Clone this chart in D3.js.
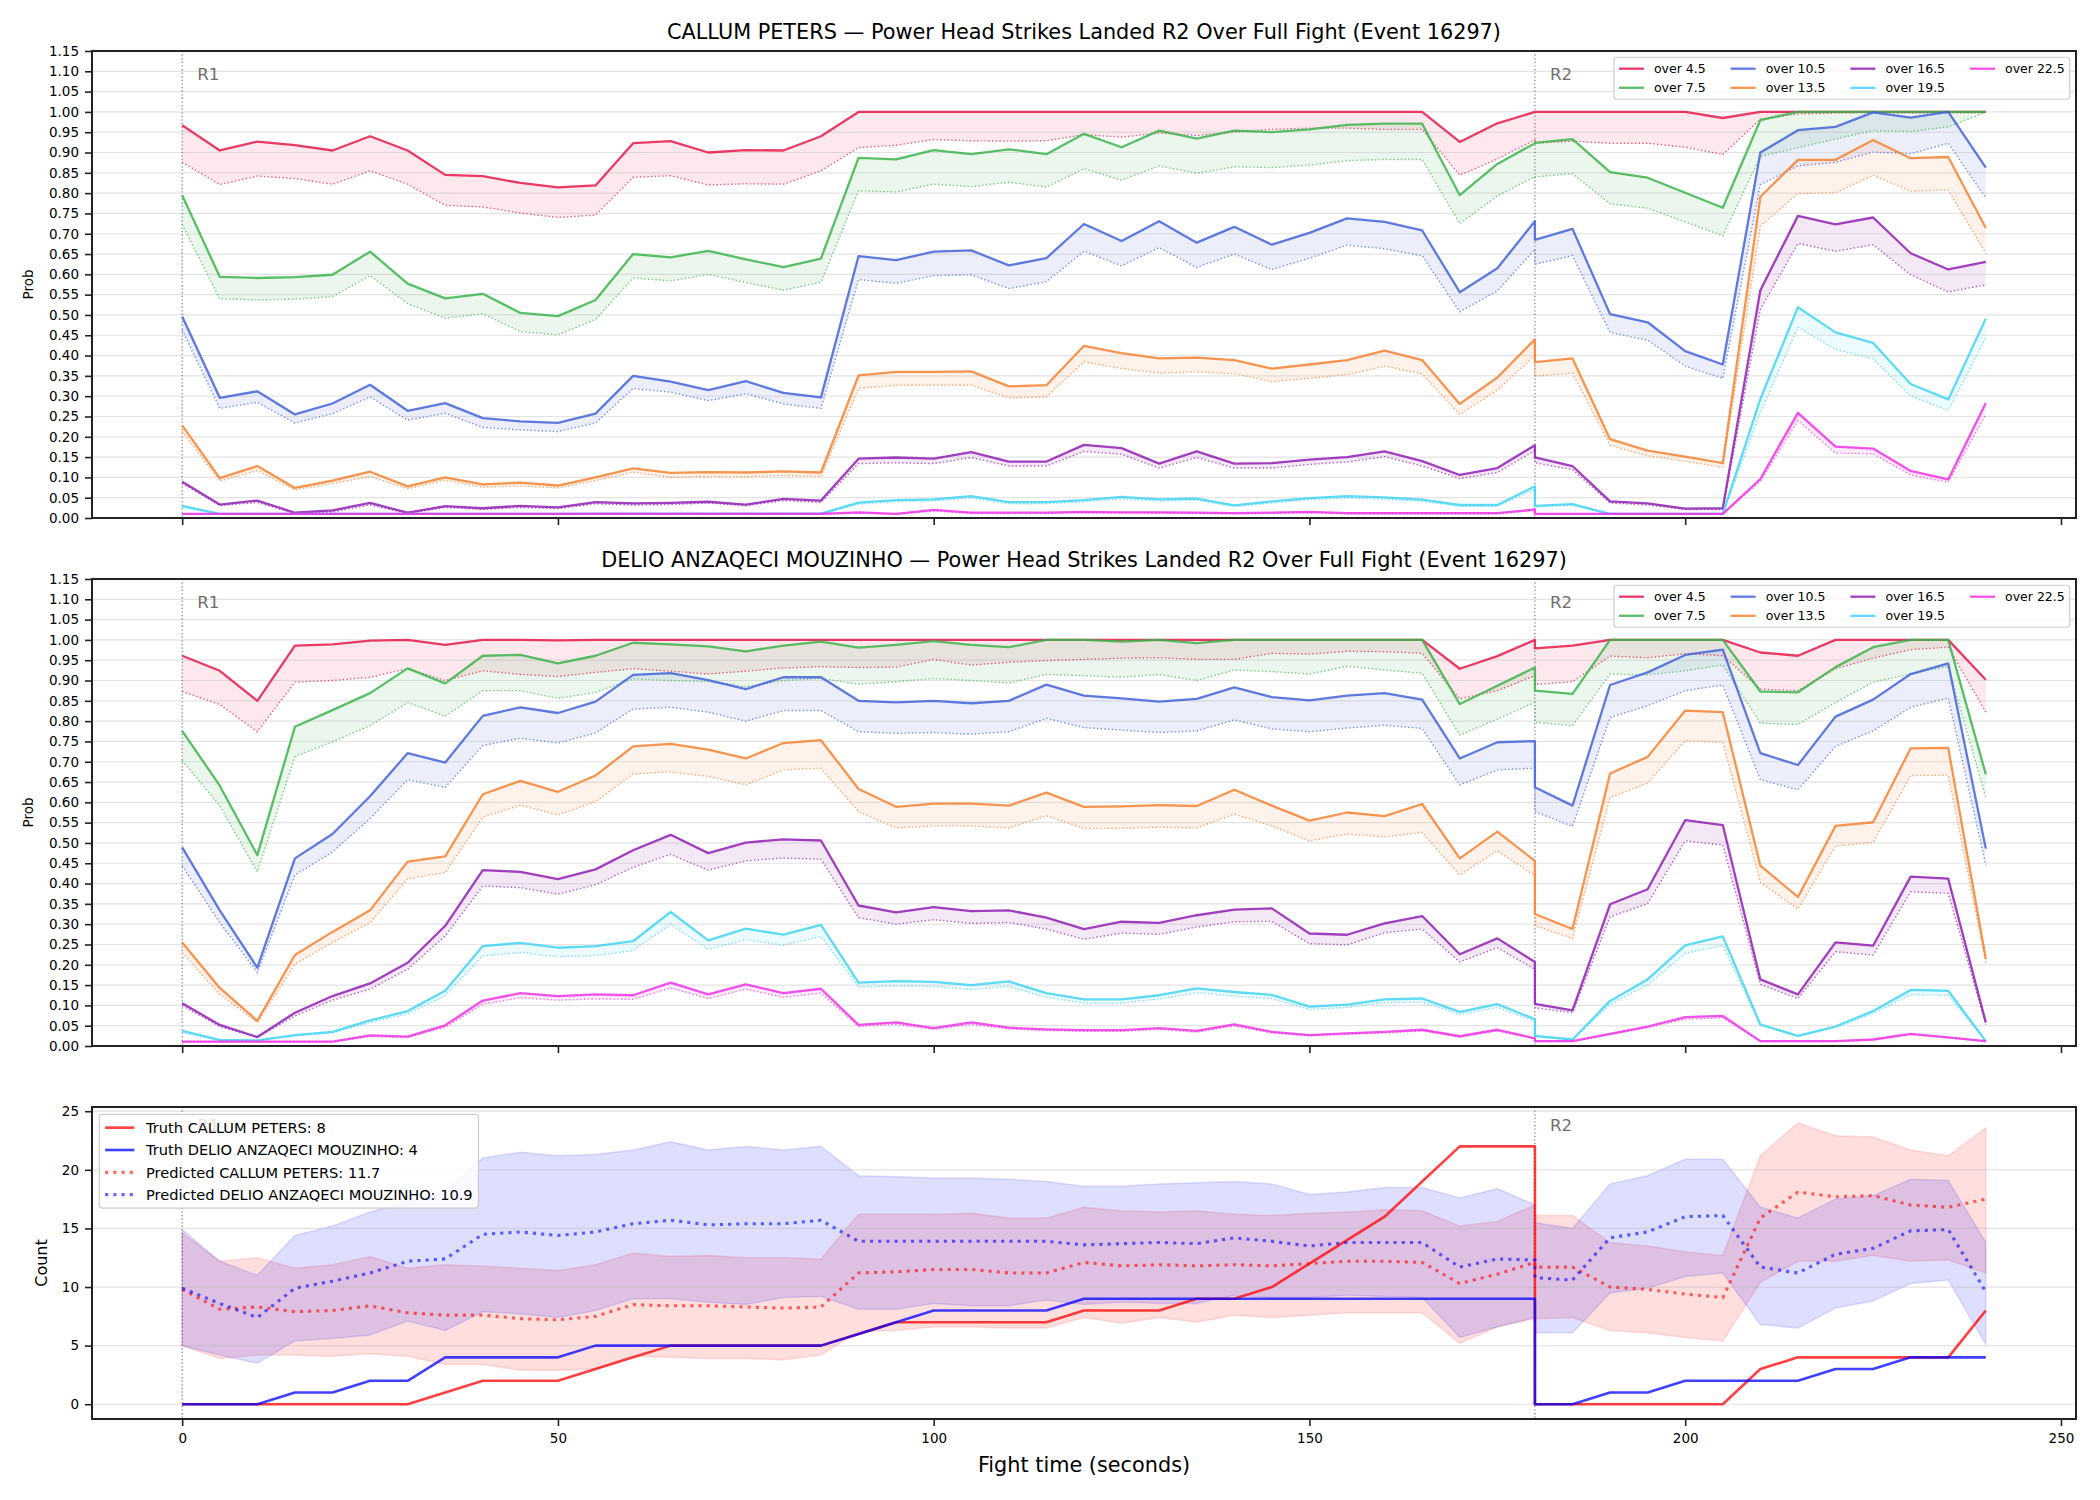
<html>
<head>
<meta charset="utf-8">
<title>Power Head Strikes Landed R2 Over Full Fight</title>
<script src="https://d3js.org/d3.v7.min.js"></script>
<style>
  body { margin: 0; background: #fff; }
</style>
</head>
<body>
<script>
// ---- data ----
const times = [0,5,10,15,20,25,30,35,40,45,50,55,60,65,70,75,80,85,90,95,100,105,110,115,120,125,130,135,140,145,150,155,160,165,170,175,180,
               180,185,190,195,200,205,210,215,220,225,230,235,240];
const roundStarts = [0, 180];
const roundNames = ["R1", "R2"];
const timeTicks = [0, 50, 100, 150, 200, 250];
const probTicks = [0,0.05,0.1,0.15,0.2,0.25,0.3,0.35,0.4,0.45,0.5,0.55,0.6,0.65,0.7,0.75,0.8,0.85,0.9,0.95,1,1.05,1.1,1.15];
const countTicks = [0, 5, 10, 15, 20, 25];

const thresholdLabels = ["over 4.5","over 7.5","over 10.5","over 13.5","over 16.5","over 19.5","over 22.5"];
const thresholdColors = ["#e6194b","#3cb44b","#4363d8","#f58231","#911eb4","#42d4f4","#f032e6"];

// CALLUM PETERS: solid lines
const petersSolid = [
 [.967,.905,.927,.918,.905,.940,.905,.845,.842,.825,.814,.819,.923,.928,.900,.906,.905,.940,1,1,1,1,1,1,1,1,1,1,1,1,1,1,1,1,.926,.972,1,
  1,1,1,1,1,.985,1,1,1,1,1,1,1],
 [.795,.594,.591,.593,.599,.656,.577,.541,.552,.505,.497,.537,.650,.642,.658,.637,.618,.639,.887,.883,.906,.896,.908,.896,.946,.913,.954,.934,.954,.950,.957,.968,.971,.971,.795,.872,.923,
  .924,.933,.852,.838,.801,.764,.980,1,1,1,1,1,1],
 [.496,.296,.312,.255,.282,.328,.264,.283,.246,.238,.234,.257,.350,.336,.315,.337,.308,.297,.645,.635,.656,.659,.622,.640,.724,.682,.731,.678,.717,.673,.702,.738,.729,.708,.556,.615,.731,
  .685,.712,.502,.482,.411,.378,.900,.955,.963,.999,.986,1,.863],
 [.228,.098,.128,.074,.092,.114,.078,.100,.083,.087,.080,.100,.122,.111,.113,.112,.115,.112,.351,.360,.360,.361,.324,.327,.424,.406,.393,.395,.389,.368,.378,.389,.412,.389,.281,.346,.440,
  .384,.393,.194,.166,.151,.135,.791,.882,.882,.931,.886,.889,.714],
 [.089,.033,.043,.013,.019,.037,.013,.029,.024,.030,.026,.039,.036,.037,.040,.033,.047,.043,.146,.149,.146,.162,.139,.139,.180,.172,.134,.164,.134,.135,.144,.150,.164,.140,.106,.123,.179,
  .149,.128,.041,.036,.023,.024,.561,.744,.723,.740,.652,.612,.631],
 [.030,.010,.010,.010,.010,.010,.010,.010,.010,.010,.010,.011,.011,.011,.011,.011,.011,.011,.038,.044,.046,.054,.039,.039,.044,.052,.046,.048,.031,.041,.049,.054,.051,.045,.032,.032,.078,
  .030,.034,.010,.010,.010,.010,.293,.519,.457,.431,.330,.292,.491],
 [.010,.010,.010,.010,.010,.010,.010,.010,.010,.010,.010,.010,.010,.010,.010,.010,.010,.010,.014,.010,.020,.013,.013,.013,.015,.014,.014,.013,.012,.013,.015,.012,.012,.012,.012,.012,.021,
  .010,.010,.010,.010,.010,.010,.096,.259,.176,.171,.116,.095,.283]
];
// CALLUM PETERS: dotted lines
const petersDotted = [
 [.876,.821,.842,.836,.822,.855,.822,.770,.766,.751,.740,.746,.839,.843,.820,.823,.822,.855,.912,.918,.932,.929,.928,.929,.944,.938,.948,.942,.950,.957,.960,.960,.957,.957,.844,.884,.931,
  .923,.928,.923,.923,.913,.895,.982,.995,.997,.998,.997,.998,.998],
 [.723,.540,.537,.539,.545,.597,.528,.492,.503,.459,.451,.489,.591,.584,.600,.580,.561,.581,.806,.803,.822,.816,.827,.815,.860,.832,.867,.849,.865,.863,.869,.880,.883,.883,.725,.793,.841,
  .840,.848,.774,.763,.729,.695,.890,.912,.933,.954,.952,.963,1],
 [.463,.270,.285,.234,.257,.298,.241,.258,.223,.217,.213,.234,.319,.310,.289,.306,.281,.270,.587,.578,.597,.599,.565,.582,.657,.621,.666,.617,.650,.612,.640,.672,.663,.646,.508,.559,.662,
  .625,.646,.457,.438,.374,.344,.821,.867,.876,.901,.897,.923,.788],
 [.213,.091,.117,.069,.085,.102,.072,.093,.076,.079,.074,.092,.113,.100,.102,.102,.105,.102,.319,.327,.327,.327,.296,.298,.385,.368,.357,.360,.355,.336,.344,.353,.374,.355,.255,.315,.400,
  .349,.357,.179,.153,.140,.125,.719,.799,.801,.844,.805,.808,.651],
 [.085,.031,.038,.011,.015,.032,.011,.026,.021,.026,.023,.035,.032,.033,.037,.030,.043,.038,.134,.136,.134,.149,.128,.128,.164,.157,.123,.149,.123,.123,.132,.138,.151,.128,.097,.112,.166,
  .136,.119,.037,.032,.021,.021,.514,.676,.657,.673,.599,.557,.574],
 [.026,.009,.009,.009,.009,.009,.009,.009,.009,.009,.009,.009,.009,.009,.009,.009,.009,.009,.034,.040,.042,.049,.035,.035,.040,.047,.042,.044,.028,.037,.045,.049,.046,.041,.029,.029,.070,
  .027,.031,.009,.009,.009,.009,.260,.470,.415,.392,.300,.265,.445],
 [.009,.009,.009,.009,.009,.009,.009,.009,.009,.009,.009,.009,.009,.009,.009,.009,.009,.009,.012,.009,.017,.011,.011,.011,.013,.012,.012,.011,.010,.011,.013,.010,.010,.010,.010,.010,.018,
  .009,.009,.009,.009,.009,.009,.090,.240,.160,.158,.106,.088,.255]
];
// DELIO ANZAQECI MOUZINHO: solid lines
const delioSolid = [
 [.961,.924,.850,.986,.989,.998,1,.988,1,1,.999,1,1,1,1,1,1,1,1,1,1,1,1,1,1,1,1,1,1,1,1,1,1,1,.929,.960,1,
  .979,.986,1,1,1,1,.969,.961,1,1,1,1,.902],
 [.776,.641,.470,.786,.827,.869,.930,.893,.961,.963,.942,.961,.993,.989,.984,.972,.986,.996,.981,.988,.997,.988,.982,1,1,.996,1,.992,1,1,1,1,1,1,.842,.887,.932,
  .875,.867,1,1,1,1,.873,.871,.933,.982,1,1,.669],
 [.489,.334,.193,.462,.522,.615,.721,.698,.813,.834,.820,.848,.914,.918,.901,.879,.908,.908,.850,.846,.850,.844,.850,.890,.863,.856,.848,.855,.883,.859,.851,.863,.869,.853,.708,.748,.751,
  .637,.592,.889,.920,.963,.976,.721,.692,.811,.853,.916,.942,.486],
 [.255,.143,.062,.224,.281,.334,.454,.467,.620,.653,.626,.666,.738,.744,.730,.708,.746,.753,.633,.589,.597,.597,.592,.624,.589,.590,.593,.591,.631,.592,.555,.575,.566,.596,.462,.528,.456,
  .325,.288,.671,.712,.826,.822,.444,.367,.542,.551,.733,.734,.215],
 [.105,.052,.022,.082,.123,.154,.205,.296,.433,.429,.411,.435,.482,.520,.475,.501,.509,.506,.346,.329,.342,.332,.334,.316,.288,.306,.303,.322,.336,.339,.277,.274,.302,.320,.226,.265,.207,
  .104,.088,.349,.386,.556,.544,.164,.127,.255,.247,.417,.412,.058],
 [.037,.015,.014,.027,.035,.063,.086,.136,.246,.254,.242,.246,.258,.330,.260,.289,.274,.298,.156,.160,.158,.150,.159,.130,.115,.115,.125,.142,.133,.126,.097,.102,.115,.117,.084,.103,.066,
  .025,.016,.111,.164,.248,.270,.053,.025,.048,.086,.138,.136,.012],
 [.011,.011,.011,.011,.011,.026,.023,.051,.112,.130,.123,.127,.125,.156,.127,.152,.130,.141,.052,.058,.044,.058,.045,.041,.039,.039,.044,.037,.053,.035,.027,.031,.035,.040,.024,.040,.019,
  .012,.012,.030,.048,.071,.074,.012,.012,.012,.016,.030,.021,.012]
];
// DELIO ANZAQECI MOUZINHO: dotted lines
const delioDotted = [
 [.873,.841,.774,.896,.900,.908,.929,.900,.924,.915,.910,.920,.929,.923,.916,.923,.931,.934,.932,.933,.952,.938,.945,.949,.952,.955,.956,.952,.952,.967,.965,.972,.971,.967,.855,.875,.912,
  .890,.897,.960,.956,.966,.961,.879,.875,.929,.955,.976,.982,.822],
 [.703,.592,.429,.713,.749,.789,.846,.812,.875,.875,.856,.871,.904,.900,.897,.885,.900,.905,.891,.897,.905,.900,.894,.915,.912,.908,.915,.900,.926,.922,.916,.935,.926,.918,.766,.805,.846,
  .797,.789,.916,.914,.924,.938,.795,.792,.846,.896,.916,.935,.612],
 [.444,.304,.181,.421,.478,.560,.656,.637,.740,.758,.746,.771,.830,.834,.822,.800,.826,.826,.774,.770,.772,.768,.774,.807,.784,.778,.772,.776,.803,.781,.774,.783,.790,.782,.643,.680,.684,
  .577,.541,.809,.838,.875,.889,.656,.631,.738,.776,.834,.857,.445],
 [.230,.127,.058,.201,.255,.304,.411,.427,.563,.593,.569,.602,.670,.675,.664,.643,.680,.684,.577,.537,.542,.542,.537,.567,.536,.536,.539,.537,.571,.542,.505,.522,.515,.526,.421,.481,.419,
  .296,.265,.612,.647,.752,.748,.403,.337,.493,.501,.666,.667,.205],
 [.099,.048,.021,.074,.113,.140,.189,.271,.394,.390,.374,.397,.440,.472,.433,.456,.463,.460,.316,.300,.311,.302,.304,.288,.263,.278,.275,.293,.306,.307,.252,.249,.279,.288,.207,.242,.189,
  .094,.082,.318,.351,.505,.495,.152,.117,.232,.224,.380,.376,.053],
 [.033,.013,.013,.025,.032,.058,.079,.124,.222,.230,.220,.223,.235,.300,.238,.262,.248,.270,.145,.148,.146,.139,.147,.120,.106,.106,.116,.131,.123,.117,.090,.095,.107,.108,.078,.095,.061,
  .023,.015,.102,.151,.228,.248,.050,.024,.045,.080,.127,.125,.011],
 [.010,.010,.010,.010,.010,.023,.021,.046,.103,.119,.113,.116,.115,.143,.117,.140,.120,.130,.048,.053,.041,.053,.042,.038,.036,.036,.041,.034,.049,.032,.025,.029,.032,.037,.022,.037,.018,
  .011,.011,.028,.045,.066,.069,.011,.011,.011,.015,.028,.020,.011]
];

// bottom panel: counts
const truthPeters = [0,0,0,0,0,0,0,1,2,2,2,3,4,5,5,5,5,5,6,7,7,7,7,7,8,8,8,9,9,10,12,14,16,19,22,22,22,
                     0,0,0,0,0,0,3,4,4,4,4,4,8];
const truthDelio  = [0,0,0,1,1,2,2,4,4,4,4,5,5,5,5,5,5,5,6,7,8,8,8,8,9,9,9,9,9,9,9,9,9,9,9,9,9,
                     0,0,1,1,2,2,2,2,3,3,4,4,4];
const predPeters  = [9.8,8.1,8.3,7.9,8.0,8.4,7.8,7.6,7.6,7.3,7.2,7.5,8.5,8.4,8.4,8.3,8.2,8.3,11.2,11.3,11.5,11.5,11.2,11.2,12.1,11.8,11.9,11.8,11.9,11.8,12.0,12.2,12.2,12.1,10.3,11.1,12.1,
                     11.7,11.7,10.0,9.8,9.4,9.1,15.9,18.1,17.7,17.8,17.0,16.8,17.5];
const predDelio   = [9.9,8.6,7.4,9.9,10.5,11.2,12.2,12.4,14.5,14.7,14.4,14.7,15.4,15.7,15.3,15.4,15.4,15.7,13.9,13.9,13.9,13.9,13.9,13.9,13.6,13.7,13.8,13.7,14.2,13.9,13.5,13.8,13.8,13.8,11.7,12.4,12.3,
                     10.8,10.6,14.2,14.7,16.0,16.1,11.7,11.2,12.8,13.3,14.8,14.9,9.6];
const bandPetersHi = [14.6,12.2,12.5,11.6,11.9,12.6,11.6,11.9,11.8,11.6,11.4,11.9,12.9,12.6,12.7,12.5,12.5,12.4,16.2,16.2,16.2,16.3,15.9,15.9,16.8,16.5,16.4,16.5,16.2,16.1,16.3,16.4,16.6,16.5,15.2,15.6,17.0,
                      16.1,16.1,13.8,13.5,13.0,12.7,21.2,24.0,22.9,22.8,21.7,21.2,23.6];
const bandPetersLo = [5.0,3.9,4.2,4.2,4.1,4.3,4.1,3.4,3.4,2.9,2.9,3.0,4.1,4.0,3.9,3.9,3.8,4.2,6.2,6.3,6.6,6.6,6.5,6.5,7.4,6.9,7.4,7.0,7.6,7.4,7.6,7.8,7.8,7.8,5.2,6.6,7.3,
                      7.3,7.4,6.3,6.1,5.7,5.4,10.4,12.2,12.2,12.7,12.2,12.3,11.2];
const bandDelioHi  = [14.9,12.2,11.0,14.4,15.2,16.4,17.3,18.1,21.0,21.5,21.2,21.3,21.7,22.4,21.7,22.0,21.7,22.0,19.5,19.4,19.3,19.3,19.2,19.0,18.6,18.6,18.8,18.9,19.0,18.8,17.9,18.1,18.5,18.5,17.6,18.4,17.0,
                      15.5,15.0,18.8,19.5,20.9,20.9,16.8,15.9,17.5,17.8,19.2,19.1,13.8];
const bandDelioLo  = [5.0,4.2,3.5,5.4,5.6,5.9,7.1,6.3,7.9,7.7,7.4,8.0,9.0,9.0,8.7,8.5,9.1,9.2,8.1,8.1,8.6,8.4,8.4,8.9,8.5,8.7,8.6,8.6,9.3,9.1,9.1,9.3,9.2,9.1,5.7,6.6,7.4,
                      6.1,6.1,9.5,9.9,10.9,11.2,6.8,6.5,8.2,8.8,10.3,10.6,5.1];
const countLegend = ["Truth CALLUM PETERS: 8","Truth DELIO ANZAQECI MOUZINHO: 4",
                     "Predicted CALLUM PETERS: 11.7","Predicted DELIO ANZAQECI MOUZINHO: 10.9"];

// ---- layout ----
const W = 2100, H = 1500;
const plotLeft = 92, plotRight = 2076;
const FONT = "DejaVu Sans, sans-serif";
const idx = d3.range(times.length);

const svg = d3.select("body").append("svg")
  .attr("width", W).attr("height", H)
  .style("font-family", FONT);
svg.append("rect").attr("width", W).attr("height", H).attr("fill", "#fff");

const x = d3.scaleLinear().domain([-12, 252]).range([plotLeft, plotRight]);

function grid(g, y, ticks) {
  g.append("g").selectAll("line").data(ticks).join("line")
    .attr("x1", plotLeft).attr("x2", plotRight)
    .attr("y1", d => y(d)).attr("y2", d => y(d))
    .attr("stroke", "#b0b0b0").attr("stroke-opacity", 0.35).attr("stroke-width", 1.2);
}

function roundLines(g, top, bottom) {
  g.append("g").selectAll("line").data(roundStarts).join("line")
    .attr("x1", d => x(d)).attr("x2", d => x(d))
    .attr("y1", top).attr("y2", bottom)
    .attr("stroke", "#555").attr("stroke-opacity", 0.8)
    .attr("stroke-width", 1.2).attr("stroke-dasharray", "1.2,2.4");
}

function roundLabels(g, y, ymax) {
  g.append("g").selectAll("text").data(roundStarts).join("text")
    .attr("x", d => x(d + 2))
    .attr("y", y(ymax * 0.97) + 14.6)
    .attr("font-size", 16.7).attr("fill", "#6e6e6e")
    .text((d, i) => roundNames[i]);
}

function axes(g, y, ticks, fmt, top, bottom, showX) {
  const ya = g.append("g").attr("transform", `translate(${plotLeft},0)`)
    .call(d3.axisLeft(y).tickValues(ticks).tickFormat(fmt).tickSize(7).tickPadding(6));
  ya.select(".domain").remove();
  ya.attr("font-family", FONT).attr("font-size", 13.5);
  ya.selectAll("line").attr("stroke", "#222").attr("stroke-width", 1.6);

  const xa = g.append("g").attr("transform", `translate(0,${bottom})`)
    .call(d3.axisBottom(x).tickValues(timeTicks).tickSize(7).tickPadding(7)
      .tickFormat(showX ? d => d : () => ""));
  xa.select(".domain").remove();
  xa.attr("font-family", FONT).attr("font-size", 13.5);
  xa.selectAll("line").attr("stroke", "#222").attr("stroke-width", 1.6);

  g.append("rect").attr("x", plotLeft).attr("y", top)
    .attr("width", plotRight - plotLeft).attr("height", bottom - top)
    .attr("fill", "none").attr("stroke", "#222").attr("stroke-width", 2);
}

function measure(texts, fs) {
  const t = svg.append("text").attr("font-size", fs);
  const w = texts.map(s => { t.text(s); return t.node().getComputedTextLength(); });
  t.remove();
  return w;
}

function probLegend(g, top) {
  const fs = 12.5;
  const widths = measure(thresholdLabels, fs);
  const cols = [[0, 1], [2, 3], [4, 5], [6]];
  const handle = 2 * fs, pad = 0.8 * fs, colSp = 2 * fs, border = 0.4 * fs;
  const rowH = 1.03 * fs, rowStep = rowH + 0.5 * fs;
  const colW = cols.map(c => handle + pad + d3.max(c, i => widths[i]));
  const boxW = 2 * border + d3.sum(colW) + colSp * (cols.length - 1);
  const boxH = 2 * border + 2 * rowH + 0.5 * fs;
  const bx = plotRight - 0.5 * fs - boxW, by = top + 0.5 * fs;
  const lg = g.append("g");
  lg.append("rect").attr("x", bx).attr("y", by).attr("width", boxW).attr("height", boxH)
    .attr("rx", 3).attr("fill", "#fff").attr("fill-opacity", 0.8)
    .attr("stroke", "#cccccc").attr("stroke-width", 1.2);
  let cx = bx + border;
  cols.forEach((c, ci) => {
    c.forEach((k, r) => {
      const cy = by + border + rowH / 2 + r * rowStep;
      lg.append("line").attr("x1", cx).attr("x2", cx + handle).attr("y1", cy).attr("y2", cy)
        .attr("stroke", thresholdColors[k]).attr("stroke-opacity", 0.85).attr("stroke-width", 2.3);
      lg.append("text").attr("x", cx + handle + pad).attr("y", cy).attr("dy", "0.36em")
        .attr("font-size", fs).attr("fill", "#000").text(thresholdLabels[k]);
    });
    cx += colW[ci] + colSp;
  });
}

function probPanel(top, bottom, title, solidRows, dottedRows) {
  const g = svg.append("g");
  const y = d3.scaleLinear().domain([0, 1.15]).range([bottom, top]);
  const px = i => x(times[i]);

  solidRows.forEach((row, k) => {
    const area = d3.area().x(px).y0(i => y(dottedRows[k][i])).y1(i => y(row[i]));
    g.append("path").datum(idx).attr("d", area)
      .attr("fill", thresholdColors[k]).attr("fill-opacity", 0.1);
  });
  grid(g, y, probTicks);
  roundLines(g, top, bottom);
  solidRows.forEach((row, k) => {
    g.append("path").datum(idx)
      .attr("d", d3.line().x(px).y(i => y(row[i])))
      .attr("fill", "none").attr("stroke", thresholdColors[k]).attr("stroke-opacity", 0.85)
      .attr("stroke-width", 2.3).attr("stroke-linejoin", "round");
    g.append("path").datum(idx)
      .attr("d", d3.line().x(px).y(i => y(dottedRows[k][i])))
      .attr("fill", "none").attr("stroke", thresholdColors[k]).attr("stroke-opacity", 0.7)
      .attr("stroke-width", 1.4).attr("stroke-dasharray", "1.4,2.3");
  });
  roundLabels(g, y, 1.15);
  axes(g, y, probTicks, d3.format(".2f"), top, bottom, false);

  g.append("text").attr("x", (plotLeft + plotRight) / 2).attr("y", top - 12.5)
    .attr("text-anchor", "middle").attr("font-size", 20.8).attr("fill", "#000").text(title);
  g.append("text").attr("transform", `translate(28,${(top + bottom) / 2}) rotate(-90)`)
    .attr("text-anchor", "middle").attr("dy", "0.35em").attr("font-size", 13.5).text("Prob");
  probLegend(g, top);
}

probPanel(51, 518, "CALLUM PETERS \u2014 Power Head Strikes Landed R2 Over Full Fight (Event 16297)",
          petersSolid, petersDotted);
probPanel(579, 1046, "DELIO ANZAQECI MOUZINHO \u2014 Power Head Strikes Landed R2 Over Full Fight (Event 16297)",
          delioSolid, delioDotted);

// ---- bottom count panel ----
(function () {
  const top = 1107, bottom = 1419;
  const g = svg.append("g");
  const y = d3.scaleLinear().domain([-1.26, 25.36]).range([bottom, top]);
  const px = i => x(times[i]);

  const bands = [[bandPetersLo, bandPetersHi, "red"], [bandDelioLo, bandDelioHi, "blue"]];
  bands.forEach(([lo, hi, c]) => {
    g.append("path").datum(idx)
      .attr("d", d3.area().x(px).y0(i => y(lo[i])).y1(i => y(hi[i])))
      .attr("fill", c).attr("fill-opacity", 0.13)
      .attr("stroke", c).attr("stroke-opacity", 0.12).attr("stroke-width", 1.5);
  });
  grid(g, y, countTicks);
  roundLines(g, top, bottom);

  const series = [
    [truthPeters, "red", false], [truthDelio, "blue", false],
    [predPeters, "red", true], [predDelio, "blue", true]
  ];
  series.forEach(([vals, c, dotted]) => {
    const p = g.append("path").datum(idx)
      .attr("d", d3.line().x(px).y(i => y(vals[i])))
      .attr("fill", "none").attr("stroke", c);
    if (dotted) p.attr("stroke-width", 3.1).attr("stroke-opacity", 0.6).attr("stroke-dasharray", "3.1,5.1");
    else p.attr("stroke-width", 2.6).attr("stroke-opacity", 0.75).attr("stroke-linejoin", "round");
  });
  roundLabels(g, y, 25.36);
  axes(g, y, countTicks, d => d, top, bottom, true);

  g.append("text").attr("transform", `translate(41,${(top + bottom) / 2}) rotate(-90)`)
    .attr("text-anchor", "middle").attr("dy", "0.35em").attr("font-size", 16).text("Count");
  g.append("text").attr("x", (plotLeft + plotRight) / 2).attr("y", 1472)
    .attr("text-anchor", "middle").attr("font-size", 20.8).text("Fight time (seconds)");

  // legend
  const fs = 14.6, border = 0.4 * fs, handle = 2 * fs, pad = 0.8 * fs;
  const rowH = 1.03 * fs, rowStep = rowH + 0.5 * fs;
  const widths = measure(countLegend, fs);
  const boxW = 2 * border + handle + pad + d3.max(widths);
  const boxH = 2 * border + 4 * rowH + 3 * 0.5 * fs;
  const bx = plotLeft + 0.5 * fs, by = top + 0.5 * fs;
  g.append("rect").attr("x", bx).attr("y", by).attr("width", boxW).attr("height", boxH)
    .attr("rx", 3).attr("fill", "#fff").attr("fill-opacity", 0.8)
    .attr("stroke", "#cccccc").attr("stroke-width", 1.2);
  series.forEach(([vals, c, dotted], r) => {
    const cy = by + border + rowH / 2 + r * rowStep;
    const l = g.append("line").attr("x1", bx + border).attr("x2", bx + border + handle)
      .attr("y1", cy).attr("y2", cy).attr("stroke", c);
    if (dotted) l.attr("stroke-width", 3.1).attr("stroke-opacity", 0.6).attr("stroke-dasharray", "3.1,5.1");
    else l.attr("stroke-width", 2.6).attr("stroke-opacity", 0.75);
    g.append("text").attr("x", bx + border + handle + pad).attr("y", cy).attr("dy", "0.36em")
      .attr("font-size", fs).text(countLegend[r]);
  });
})();
</script>
</body>
</html>
